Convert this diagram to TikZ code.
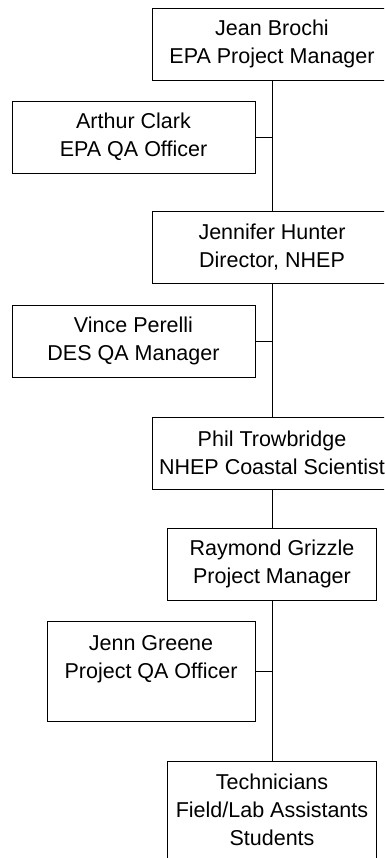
\documentclass[tikz,border=0pt]{standalone}
\usepackage{fontspec}
\setmainfont{Liberation Sans}
\usetikzlibrary{positioning}

\begin{document}
\begin{tikzpicture}[x=1pt, y=-1pt,
  box/.style={draw, line width=0.9pt, align=center, inner sep=0pt, font=\fontsize{21.5}{28}\selectfont},
  wide/.style={box, minimum width=240pt, minimum height=72pt},
  side/.style={box, minimum width=243pt, minimum height=72pt},
  mid/.style={box, minimum width=209pt, minimum height=72pt},
  link/.style={line width=0.9pt}]
\useasboundingbox (0,0) rectangle (384,858);
\clip (0,0) rectangle (384,858);
\node[wide] (jb) at (272,44)    {Jean Brochi\\EPA Project Manager};
\node[side] (ac) at (133.5,137) {Arthur Clark\\EPA QA Officer};
\node[wide] (jh) at (272,247.5) {Jennifer Hunter\\Director, NHEP};
\node[side] (vp) at (133.5,341) {Vince Perelli\\DES QA Manager};
\node[wide] (pt) at (272,453)   {Phil Trowbridge\\NHEP Coastal Scientist};
\node[mid]  (rg) at (272,564)   {Raymond Grizzle\\Project Manager};
\node[box, minimum width=208pt, minimum height=100pt] (jg) at (151,671) {Jenn Greene\\Project QA Officer\\\mbox{}};
\node[mid, minimum height=98pt] (tc) at (272,810) {Technicians\\Field/Lab Assistants\\Students};

% trunk
\draw[link] (jb) -- (jh);
\draw[link] (jh) -- (pt);
\draw[link] (pt) -- (rg);
\draw[link] (rg) -- (tc);
% staff branches
\draw[link] (ac.east) -- (ac.east -| jb.south);
\draw[link] (vp.east) -- (vp.east -| jh.south);
\draw[link] (jg.east) -- (jg.east -| rg.south);
\end{tikzpicture}
\end{document}
